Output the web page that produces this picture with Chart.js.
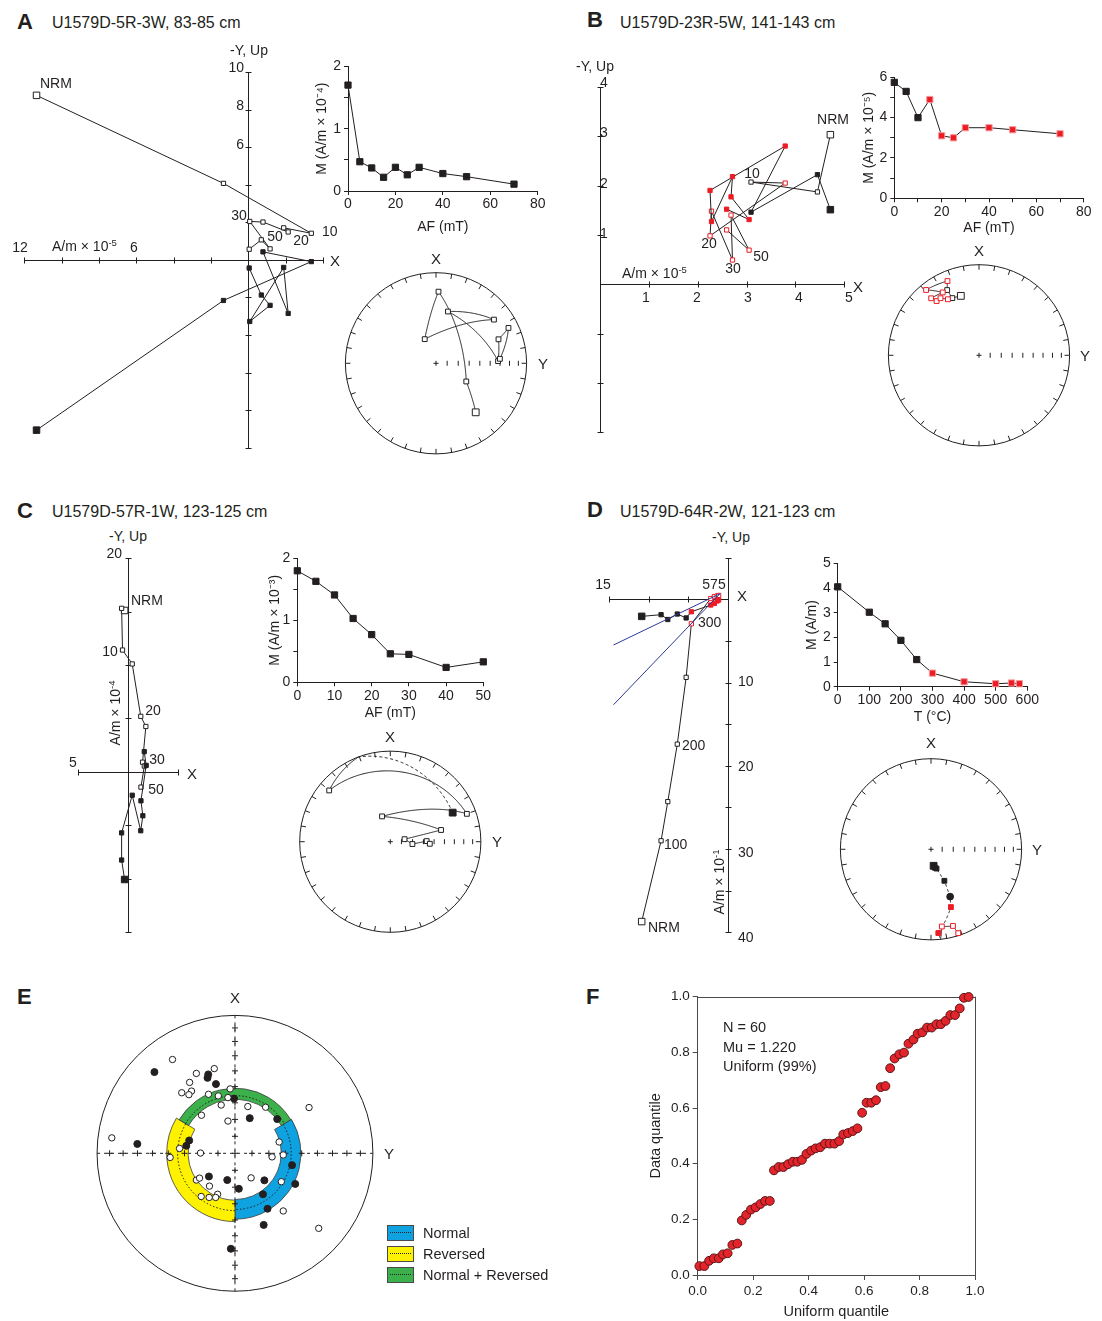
<!DOCTYPE html>
<html>
<head>
<meta charset="utf-8">
<title>U1579D demagnetization results</title>
<script src="https://cdn.jsdelivr.net/npm/chart.js@4.4.1/dist/chart.umd.min.js"></script>
<style>
  html, body { margin: 0; padding: 0; background: #fff; }
  body { position: relative; width: 1102px; height: 1321px; overflow: hidden;
         font-family: "Liberation Sans", Arial, Helvetica, sans-serif; color: #231f20; }
  canvas { position: absolute; }
  .t { position: absolute; white-space: nowrap; line-height: 1; }
  .t sup { font-size: 0.68em; vertical-align: 0; position: relative; top: -0.5em; }
  .key { position: absolute; width: 27px; height: 16px; border: 1px solid #4a4a4a; box-sizing: border-box; }
  .key::after { content: ""; position: absolute; left: 2px; right: 2px; top: 6px; border-top: 1px dotted #222; }
</style>
</head>
<body>
<script>
// ---------- Panel A: U1579D-5R-3W, 83-85 cm
const aSteps = [0, 5, 10, 15, 20, 25, 30, 40, 50, 70];
const aM = [1.70, 0.47, 0.37, 0.22, 0.38, 0.26, 0.38, 0.28, 0.23, 0.11];
const aZijUp = [[-11.35, 8.77], [-1.33, 4.08], [3.38, 1.42], [1.90, 1.71], [2.14, 1.49], [0.79, 2.02], [0.08, 2.05], [1.17, 0.59], [0.70, 1.07], [0.05, 0.57]];
const aZijHor = [[-11.35, -9.07], [-1.33, -2.16], [3.38, -0.09], [0.79, 0.43], [2.14, -2.85], [1.90, -0.40], [0.08, -3.28], [1.17, -2.42], [0.70, -1.87], [0.05, -0.43]];
const aDec = [141, 121, 2, 335, 53, 13, 88, 69, 64, 86];
const aInc = [-31, -58, -22, -66, -21, -41, -32, -27, -12, -30];

// ---------- Panel B: U1579D-23R-5W, 141-143 cm
const bSteps = [0, 5, 10, 15, 20, 25, 30, 40, 50, 70];
const bM = [5.75, 5.30, 4.00, 4.90, 3.10, 3.00, 3.50, 3.50, 3.40, 3.20];
const bZijUp = [[4.715, 3.03], [4.45, 1.87], [3.09, 2.07], [3.79, 2.05], [2.25, 0.98], [2.28, 1.48], [2.71, 0.49], [2.68, 1.40], [3.05, 0.69], [2.59, 1.10]];
const bZijHor = [[4.715, 1.51], [4.45, 2.22], [3.09, 1.46], [3.79, 2.80], [2.25, 1.90], [2.28, 1.27], [2.71, 2.18], [2.68, 1.77], [3.05, 1.31], [2.59, 1.52]];
const bDec = [343, 335, 334, 337, 321, 330, 320, 322, 326, 331];
const bInc = [-32, -31, -21, -12, -8, -21, -19, -25, -25, -30];
const bRedFrom = 3;

// ---------- Panel C: U1579D-57R-1W, 123-125 cm
const cSteps = [0, 5, 10, 15, 20, 25, 30, 40, 50];
const cM = [1.80, 1.63, 1.41, 1.03, 0.77, 0.46, 0.45, 0.24, 0.33];
const cZijUp = [[-0.36, 15.1], [-0.66, 15.3], [-0.57, 11.4], [0.40, 10.1], [1.25, 5.2], [1.76, 4.25], [1.43, 0.91], [1.61, 0.55], [1.27, -1.42]];
const cZijHor = [[-0.36, -10.06], [-0.66, -8.24], [-0.66, -5.7], [0.40, -2.18], [1.25, -5.5], [1.46, -4.1], [1.27, -2.7], [1.79, 0.61], [1.60, 1.9]];
const cDec = [65, 310, 70, 342, 77, 80, 96, 89, 93];
const cInc = [25, -13, -11, -66, -42, -77, -70, -57, -54];

// ---------- Panel D: U1579D-64R-2W, 121-123 cm (thermal)
const dSteps = [0, 100, 150, 200, 250, 300, 400, 500, 550, 575];
const dM = [4.05, 3.02, 2.55, 1.88, 1.10, 0.55, 0.20, 0.12, 0.15, 0.12];
const dZijUp = [[-10.9, -38.7], [-8.45, -29.0], [-7.6, -24.3], [-6.4, -17.4], [-5.28, -9.38], [-4.62, -2.95], [-2.17, 0.08], [-1.71, 0.31], [-1.36, 0.39], [-1.17, 0.45]];
const dZijHor = [[-10.9, -2.06], [-8.45, -1.86], [-7.6, -2.44], [-6.4, -1.78], [-5.28, -2.25], [-4.62, -1.51], [-2.17, -0.70], [-1.71, -0.51], [-1.36, -0.21], [-1.17, -0.10]];
const dFitUp = [[-1.0, 0.66], [-14.46, -12.67]];
const dFitHor = [[-1.0, 0.66], [-14.46, -5.5]];
const dDec = [171, 168, 164, 157, 158, 161, 175, 172, 164, 162];
const dInc = [75, 73, 72, 59, 43, 33, 8, -15, -13, -3];
const dRedFrom = 5;

// ---------- Panel E: site directions (equal-area east / north) and confidence bands
const eOpen = [[-0.453, 0.680], [-0.280, 0.579], [-0.150, 0.614], [-0.329, 0.514], [-0.386, 0.439], [-0.315, 0.451], [-0.334, 0.425],
  [-0.035, 0.467], [-0.192, 0.428], [-0.121, 0.416], [-0.051, 0.404], [-0.100, 0.350], [0.093, 0.339], [0.222, 0.334], [-0.243, 0.276],
  [-0.051, 0.234], [0.537, 0.332], [-0.893, 0.112], [0.320, 0.082], [-0.402, 0.035], [-0.470, -0.030], [-0.250, 0.002], [0.269, -0.026],
  [0.350, -0.012], [-0.280, -0.194], [-0.257, -0.180], [-0.185, -0.238], [0.117, -0.178], [0.336, -0.206], [-0.126, -0.297],
  [-0.245, -0.313], [-0.187, -0.320], [-0.140, -0.320], [0.350, -0.418], [0.607, -0.544]];
const eFilled = [[-0.584, 0.589], [-0.194, 0.572], [-0.199, 0.547], [-0.138, 0.502], [-0.007, 0.397], [0.107, 0.255], [0.306, 0.248],
  [-0.708, 0.068], [-0.332, 0.093], [-0.353, 0.054], [0.414, -0.086], [0.437, -0.222], [-0.189, -0.168], [-0.056, -0.194],
  [0.028, -0.257], [0.213, -0.196], [0.203, -0.297], [0.236, -0.402], [0.208, -0.519], [-0.030, -0.692]];
const eBandNames = ['Normal', 'Reversed', 'Normal + Reversed'];
const eBandColors = ['#0ea2e0', '#fff200', '#3cb04a'];
const eBandAz = [[59, 180], [180, 301], [301, 419]];
const eBandInc = [[62.6, 50.5], [62.2, 49.0], [57.8, 51.0]];
const eBandMeanInc = [56.5, 55.8, 55.6];

// ---------- Panel F: uniform quantile plot
const fUniform = [.006, .024, .041, .058, .076, .091, .108, .125, .143, .159, .175, .192, .209, .226, .243, .260, .275, .292, .309, .326,
  .343, .359, .376, .392, .409, .425, .442, .459, .476, .493, .510, .525, .542, .559, .576, .593, .609, .626, .643, .660,
  .677, .694, .710, .727, .744, .760, .778, .793, .810, .827, .844, .861, .877, .894, .911, .928, .945, .960, .977];
const fData = [.032, .032, .051, .060, .060, .074, .078, .108, .113, .196, .216, .235, .243, .255, .266, .266, .376, .388, .388, .398,
  .407, .407, .414, .435, .447, .455, .459, .472, .472, .472, .481, .505, .510, .517, .527, .583, .619, .619, .628, .675,
  .679, .743, .778, .793, .799, .831, .846, .867, .872, .889, .889, .901, .901, .913, .934, .934, .958, .996, .999];

const netIncTicks = [10, 20, 30, 40, 50, 60, 70, 80];

// ---------------------------------------------------------------------------
const INK = '#231f20', RED = '#ed1c24', FRAME = '#4a4a4a';
const D2R = Math.PI / 180;
Chart.defaults.font.family = "'Liberation Sans', Arial, Helvetica, sans-serif";
Chart.defaults.color = INK;

function makeCanvas(box) {
  const cv = document.createElement('canvas');
  cv.width = box[2]; cv.height = box[3];
  cv.style.left = box[0] + 'px'; cv.style.top = box[1] + 'px';
  cv.style.width = box[2] + 'px'; cv.style.height = box[3] + 'px';
  document.body.appendChild(cv);
  return cv;
}
function baseOpts() {
  return { responsive: false, animation: false, events: [],
           plugins: { legend: { display: false }, tooltip: { enabled: false } } };
}
const stepColors = (n, redFrom) => Array.from({ length: n }, (_, i) => i >= redFrom ? RED : INK);

// ---------- orthogonal (Zijderveld) plots
function zijSet(pts, colors, filled) {
  return {
    data: pts.map(p => ({ x: p[0], y: p[1] })), showLine: true, borderColor: INK, borderWidth: 1, clip: false,
    pointStyle: 'rect', pointRadius: pts.map((p, i) => i === 0 ? 4.6 : 3),
    pointBackgroundColor: colors.map(c => filled ? c : '#fff'), pointBorderColor: colors, pointBorderWidth: 1
  };
}
function zijChart(box, org, k, ax, sets) {
  const o = baseOpts();
  o.layout = { padding: 0 };
  o.scales = {
    x: { type: 'linear', display: false, min: (box[0] - org[0]) / k, max: (box[0] + box[2] - org[0]) / k },
    y: { type: 'linear', display: false, min: (org[1] - box[1] - box[3]) / k, max: (org[1] - box[1]) / k }
  };
  new Chart(makeCanvas(box), { type: 'scatter', data: { datasets: sets }, options: o, plugins: [{
    id: 'zijAxes',
    beforeDatasetsDraw(chart) {
      const { ctx, scales: { x, y } } = chart;
      const px = v => Math.round(x.getPixelForValue(v)) + 0.5, py = v => Math.round(y.getPixelForValue(v)) + 0.5;
      ctx.save();
      ctx.strokeStyle = INK; ctx.lineWidth = 1;
      ctx.beginPath();
      ctx.moveTo(px(ax.x[0]), py(0)); ctx.lineTo(px(ax.x[1]), py(0));
      ctx.moveTo(px(0), py(ax.y[0])); ctx.lineTo(px(0), py(ax.y[1]));
      for (let v = ax.x[0]; v <= ax.x[1] + 1e-9; v += ax.x[2]) {
        if (Math.abs(v) < 1e-9) continue;
        ctx.moveTo(px(v), py(0) - 3); ctx.lineTo(px(v), py(0) + 3);
      }
      for (let v = ax.y[0]; v <= ax.y[1] + 1e-9; v += ax.y[2]) {
        if (Math.abs(v) < 1e-9) continue;
        ctx.moveTo(px(0) - 3, py(v)); ctx.lineTo(px(0) + 3, py(v));
      }
      ctx.stroke();
      ctx.restore();
    }
  }] });
}

// ---------- intensity decay plots and the quantile plot
function axisOpt(s, horizontal, size) {
  return {
    type: 'linear', min: s.min, max: s.max,
    afterFit: sc => { if (horizontal) sc.height = size; else sc.width = size; },
    border: { display: true, color: s.color || INK, width: 1 },
    grid: { display: true, drawOnChartArea: false, drawTicks: true, tickLength: s.tick || 4, color: s.color || INK },
    ticks: { stepSize: s.step, autoSkip: false, maxRotation: 0, color: INK, padding: s.pad, font: { size: s.fs || 14 },
             callback: s.fmt || (v => s.labels.some(l => Math.abs(l - v) < 1e-9) ? String(v) : '') },
    title: { display: true, text: s.title, color: INK, font: { size: s.ts || 14 }, padding: { top: s.tp, bottom: 0 } }
  };
}
function plotChart(box, area, sets, sx, sy, extra) {
  const o = baseOpts();
  o.layout = { padding: { left: 0, bottom: 0, top: area[1] - box[1], right: box[0] + box[2] - area[2] } };
  o.scales = { x: axisOpt(sx, true, box[1] + box[3] - area[3]), y: axisOpt(sy, false, area[0] - box[0]) };
  new Chart(makeCanvas(box), { type: 'scatter', data: { datasets: sets }, options: o, plugins: extra ? [extra] : [] });
}
function decaySet(xs, ys, redFrom) {
  const cols = stepColors(xs.length, redFrom);
  return {
    data: xs.map((x, i) => ({ x, y: ys[i] })), showLine: true, borderColor: INK, borderWidth: 1, clip: false,
    pointStyle: 'rect', pointRadius: 4.4, pointBackgroundColor: cols,
    pointBorderColor: cols.map(c => c === RED ? '#f59a9d' : INK), pointBorderWidth: 1
  };
}

// ---------- equal-area stereonets
function proj(dec, inc) {
  const r = Math.sqrt(1 - Math.sin(Math.abs(inc) * D2R));
  return { x: r * Math.sin(dec * D2R), y: r * Math.cos(dec * D2R) };
}
function vec(dec, inc) {
  return [Math.cos(inc * D2R) * Math.cos(dec * D2R), Math.cos(inc * D2R) * Math.sin(dec * D2R), Math.sin(inc * D2R)];
}
function projVec(w) {
  const h = Math.hypot(w[0], w[1]);
  const r = Math.sqrt(Math.max(0, 1 - Math.abs(w[2])));
  return h < 1e-9 ? { x: 0, y: 0 } : { x: r * w[1] / h, y: r * w[0] / h };
}
function drawNet(ctx, P, R) {
  const [cx, cy] = P(0, 0);
  ctx.strokeStyle = INK; ctx.lineWidth = 1;
  ctx.beginPath(); ctx.arc(cx, cy, R, 0, 2 * Math.PI); ctx.stroke();
  ctx.beginPath();
  for (let a = 0; a < 360; a += 10) {
    const s = Math.sin(a * D2R), c = Math.cos(a * D2R);
    ctx.moveTo(cx + s * R, cy - c * R); ctx.lineTo(cx + s * (R - 5), cy - c * (R - 5));
  }
  ctx.moveTo(cx - 2.5, cy); ctx.lineTo(cx + 2.5, cy); ctx.moveTo(cx, cy - 2.5); ctx.lineTo(cx, cy + 2.5);
  netIncTicks.forEach(I => {
    const r = R * Math.sqrt(1 - Math.sin(I * D2R));
    ctx.moveTo(cx + r, cy - 2.5); ctx.lineTo(cx + r, cy + 2.5);
  });
  ctx.stroke();
}
// consecutive directions joined along great circles: solid above, dashed below the horizontal
function drawPath(ctx, P, dec, inc) {
  ctx.strokeStyle = INK; ctx.lineWidth = 1;
  let run = [], low = null;
  const flush = () => {
    if (run.length > 1) {
      ctx.setLineDash(low ? [3, 2.5] : []);
      ctx.beginPath();
      run.forEach((p, j) => j ? ctx.lineTo(p[0], p[1]) : ctx.moveTo(p[0], p[1]));
      ctx.stroke();
    }
  };
  for (let i = 0; i < dec.length - 1; i++) {
    const u = vec(dec[i], inc[i]), v = vec(dec[i + 1], inc[i + 1]);
    const th = Math.acos(Math.min(1, Math.max(-1, u[0] * v[0] + u[1] * v[1] + u[2] * v[2])));
    const n = Math.max(2, Math.ceil(th * 80));
    for (let k = i ? 1 : 0; k <= n; k++) {
      const t = k / n;
      let w = u;
      if (th > 1e-6) {
        const a = Math.sin((1 - t) * th) / Math.sin(th), b = Math.sin(t * th) / Math.sin(th);
        w = [a * u[0] + b * v[0], a * u[1] + b * v[1], a * u[2] + b * v[2]];
      }
      const q = projVec(w), p = P(q.x, q.y), lw = w[2] > 1e-9;
      if (low === null) low = lw;
      if (lw !== low) { flush(); run = [run[run.length - 1]]; low = lw; }
      run.push(p);
    }
  }
  flush();
  ctx.setLineDash([]);
}
function dirSet(dec, inc, colors, shapes) {
  return {
    data: dec.map((d, i) => proj(d, inc[i])), showLine: false, clip: false,
    pointStyle: shapes || 'rect', pointRadius: dec.map((d, i) => i === 0 ? 4.8 : 3.4),
    pointBackgroundColor: inc.map((v, i) => v > 0 ? colors[i] : '#fff'),
    pointBorderColor: colors, pointBorderWidth: 1
  };
}
function stereoChart(c, R, sets, drawUnder) {
  const pad = 7;
  const box = [Math.round(c[0] - R - pad), Math.round(c[1] - R - pad), Math.round(2 * R + 2 * pad), Math.round(2 * R + 2 * pad)];
  const o = baseOpts();
  o.layout = { padding: 0 };
  o.scales = {
    x: { type: 'linear', display: false, min: (box[0] - c[0]) / R, max: (box[0] + box[2] - c[0]) / R },
    y: { type: 'linear', display: false, min: (c[1] - box[1] - box[3]) / R, max: (c[1] - box[1]) / R }
  };
  new Chart(makeCanvas(box), { type: 'scatter', data: { datasets: sets }, options: o, plugins: [{
    id: 'net',
    beforeDatasetsDraw(chart) {
      const { ctx, scales: { x, y } } = chart;
      const P = (e, n) => [x.getPixelForValue(e), y.getPixelForValue(n)];
      ctx.save();
      drawUnder(ctx, P, x.getPixelForValue(1) - x.getPixelForValue(0));
      ctx.restore();
    }
  }] });
}

// ---------- text
function lab(html, x, y, a, s, rot) {
  const d = document.createElement('div');
  d.className = 't';
  d.innerHTML = html;
  d.style.left = x + 'px'; d.style.top = y + 'px';
  d.style.fontSize = (s || 14) + 'px';
  const tx = a === 'c' ? '-50%' : a === 'r' ? '-100%' : '0';
  d.style.transform = `translate(${tx},-50%)` + (rot ? ` rotate(${rot}deg)` : '');
  document.body.appendChild(d);
}

// =========================== Panel A
zijChart([10, 55, 335, 405], [250.7, 260], 19.3, { x: [-12, 4, 2], y: [-10, 10, 2] }, [
  zijSet(aZijHor, stepColors(10, 99), true),
  zijSet(aZijUp, stepColors(10, 99), false)
]);
plotChart([300, 55, 250, 181], [348, 65, 537.7, 191], [decaySet(aSteps, aM, 99)],
  { min: 0, max: 80, step: 20, labels: [0, 20, 40, 60, 80], pad: 1, title: 'AF (mT)', tp: 9 },
  { min: 0, max: 2, step: 0.5, labels: [0, 1, 2], pad: 3, title: 'M (A/m × 10⁻⁴)', tp: 13.5 });
stereoChart([436, 363.3], 96, [dirSet(aDec, aInc, stepColors(10, 99))],
  (ctx, P, R) => { drawNet(ctx, P, R); drawPath(ctx, P, aDec, aInc); });

// =========================== Panel B
zijChart([585, 70, 280, 375], [595, 285], 50.85, { x: [0, 5, 1], y: [-3, 4, 1] }, [
  zijSet(bZijHor, stepColors(10, bRedFrom), true),
  zijSet(bZijUp, stepColors(10, bRedFrom), false)
]);
plotChart([850, 65, 250, 172], [894.3, 77.3, 1083.7, 198.3], [decaySet(bSteps, bM, bRedFrom)],
  { min: 0, max: 80, step: 10, labels: [0, 20, 40, 60, 80], pad: 1, title: 'AF (mT)', tp: 0 },
  { min: 0, max: 6, step: 1, labels: [0, 2, 4, 6], pad: 3, title: 'M (A/m × 10⁻⁵)', tp: 10.5 });
stereoChart([979, 355.3], 96, [dirSet(bDec, bInc, stepColors(10, bRedFrom))],
  (ctx, P, R) => { drawNet(ctx, P, R); drawPath(ctx, P, bDec, bInc); });

// =========================== Panel C
zijChart([65, 545, 125, 400], [128.3, 772.7], 11, { x: [-5, 5, 5], y: [-15, 20, 5] }, [
  zijSet(cZijHor, stepColors(9, 99), true),
  zijSet(cZijUp, stepColors(9, 99), false)
]);
plotChart([255, 547, 240, 175], [297.3, 557.3, 483.3, 682.3], [decaySet(cSteps, cM, 99)],
  { min: 0, max: 50, step: 10, labels: [0, 10, 20, 30, 40, 50], pad: 1, title: 'AF (mT)', tp: 5.3 },
  { min: 0, max: 2, step: 0.5, labels: [0, 1, 2], pad: 3, title: 'M (A/m × 10⁻³)', tp: 11.5 });
stereoChart([390.3, 841.7], 96, [dirSet(cDec, cInc, stepColors(9, 99))],
  (ctx, P, R) => { drawNet(ctx, P, R); drawPath(ctx, P, cDec, cInc); });

// =========================== Panel D
zijChart([598, 545, 145, 400], [732.7, 595], 8.57, { x: [-15, 0, 5], y: [-40, 5, 5] }, [
  { data: dFitUp.map(p => ({ x: p[0], y: p[1] })), showLine: true, borderColor: '#2b3a93', borderWidth: 1, pointRadius: 0, clip: false },
  { data: dFitHor.map(p => ({ x: p[0], y: p[1] })), showLine: true, borderColor: '#2b3a93', borderWidth: 1, pointRadius: 0, clip: false },
  zijSet(dZijHor, stepColors(10, dRedFrom), true),
  zijSet(dZijUp, stepColors(10, dRedFrom), false)
]);
plotChart([795, 552, 250, 174], [837.7, 562.3, 1027.3, 686.7], [decaySet(dSteps, dM, dRedFrom)],
  { min: 0, max: 600, step: 100, labels: [0, 100, 200, 300, 400, 500, 600], pad: 1, title: 'T (°C)', tp: 0 },
  { min: 0, max: 5, step: 1, labels: [0, 1, 2, 3, 4, 5], pad: 3, title: 'M (A/m)', tp: 8.3 });
stereoChart([931, 849.3], 96, [dirSet(dDec, dInc, stepColors(10, dRedFrom),
    dSteps.map(s => s === 250 ? 'circle' : 'rect'))],
  (ctx, P, R) => { drawNet(ctx, P, R); drawPath(ctx, P, dDec, dInc); });

// =========================== Panel E
stereoChart([235, 1153.3], 142.7, [
  { data: eOpen.map(p => ({ x: p[0], y: p[1] })), showLine: false, clip: false, pointStyle: 'circle', pointRadius: 3.2,
    pointBackgroundColor: '#fff', pointBorderColor: INK, pointBorderWidth: 1 },
  { data: eFilled.map(p => ({ x: p[0], y: p[1] })), showLine: false, clip: false, pointStyle: 'circle', pointRadius: 3.5,
    pointBackgroundColor: INK, pointBorderColor: INK, pointBorderWidth: 1 }
], (ctx, P, R) => {
  const [cx, cy] = P(0, 0);
  ctx.strokeStyle = INK; ctx.lineWidth = 1;
  ctx.beginPath(); ctx.arc(cx, cy, R, 0, 2 * Math.PI); ctx.stroke();
  ctx.setLineDash([3, 4]);
  ctx.beginPath();
  ctx.moveTo(cx - R, cy); ctx.lineTo(cx + R, cy); ctx.moveTo(cx, cy - R); ctx.lineTo(cx, cy + R);
  ctx.stroke();
  ctx.setLineDash([]);
  eBandAz.forEach((az, i) => {
    const rIn = R * Math.sqrt(1 - Math.sin(eBandInc[i][0] * D2R));
    const rOut = R * Math.sqrt(1 - Math.sin(eBandInc[i][1] * D2R));
    const a0 = (az[0] - 90) * D2R, a1 = (az[1] - 90) * D2R;
    ctx.beginPath();
    ctx.arc(cx, cy, rOut, a0, a1); ctx.arc(cx, cy, rIn, a1, a0, true); ctx.closePath();
    ctx.fillStyle = eBandColors[i]; ctx.fill();
    ctx.strokeStyle = '#3a3a3a'; ctx.lineWidth = 0.8; ctx.stroke();
    const rm = R * Math.sqrt(1 - Math.sin(eBandMeanInc[i] * D2R));
    ctx.setLineDash([1.5, 2]); ctx.strokeStyle = '#1a1a1a'; ctx.lineWidth = 1;
    ctx.beginPath(); ctx.arc(cx, cy, rm, a0, a1); ctx.stroke();
    ctx.setLineDash([]);
  });
  ctx.strokeStyle = INK; ctx.lineWidth = 1;
  ctx.beginPath();
  const cross = (x, y) => { ctx.moveTo(x - 3, y); ctx.lineTo(x + 3, y); ctx.moveTo(x, y - 3); ctx.lineTo(x, y + 3); };
  cross(cx, cy);
  netIncTicks.forEach(I => {
    const r = R * Math.sqrt(1 - Math.sin(I * D2R));
    cross(cx + r, cy); cross(cx - r, cy); cross(cx, cy + r); cross(cx, cy - r);
  });
  ctx.stroke();
});

// =========================== Panel F
plotChart([640, 985, 350, 336], [697.7, 996.7, 975, 1275], [{
    data: fUniform.map((x, i) => ({ x, y: fData[i] })), showLine: false, clip: false, pointStyle: 'circle',
    pointRadius: 4.4, pointBackgroundColor: '#e3242b', pointBorderColor: '#5a1618', pointBorderWidth: 1
  }],
  { min: 0, max: 1, step: 0.2, fmt: v => v.toFixed(1), pad: 3, tick: 5, color: FRAME, fs: 13.5, ts: 14.5, title: 'Uniform quantile', tp: 0.3 },
  { min: 0, max: 1, step: 0.2, fmt: v => v.toFixed(1), pad: 3, tick: 5, color: FRAME, fs: 13.5, ts: 14.5, title: 'Data quantile', tp: 7.3 },
  { id: 'frame', beforeDatasetsDraw(chart) {
      const { ctx, chartArea: a } = chart;
      ctx.save(); ctx.strokeStyle = FRAME; ctx.lineWidth = 1;
      ctx.beginPath();
      ctx.moveTo(a.left, Math.round(a.top) + 0.5); ctx.lineTo(a.right, Math.round(a.top) + 0.5);
      ctx.moveTo(Math.round(a.right) + 0.5, a.top); ctx.lineTo(Math.round(a.right) + 0.5, a.bottom);
      ctx.stroke(); ctx.restore();
  } });

// =========================== text
const SUP5 = 'A/m × 10<sup>-5</sup>';
[
  ['<b>A</b>', 17, 22, 'l', 22], ['U1579D-5R-3W, 83-85 cm', 52, 23, 'l', 16],
  ['<b>B</b>', 587, 20, 'l', 22], ['U1579D-23R-5W, 141-143 cm', 620, 23, 'l', 16],
  ['<b>C</b>', 17, 511, 'l', 22], ['U1579D-57R-1W, 123-125 cm', 52, 512, 'l', 16],
  ['<b>D</b>', 587, 510, 'l', 22], ['U1579D-64R-2W, 121-123 cm', 620, 512, 'l', 16],
  ['<b>E</b>', 17, 997, 'l', 22], ['<b>F</b>', 586, 997, 'l', 22],
  // A
  ['-Y, Up', 249, 50, 'c'], ['10', 244, 67, 'r'], ['8', 244, 105, 'r'], ['6', 244, 144, 'r'],
  ['12', 20, 247, 'c'], [SUP5, 52, 246, 'l'], ['6', 134, 247, 'c'], ['X', 330, 260, 'l', 15],
  ['NRM', 40, 83, 'l'], ['30', 239, 215, 'c'], ['10', 322, 231, 'l'], ['20', 301, 240, 'c'], ['50', 275, 236, 'c'],
  ['X', 436, 258, 'c', 15], ['Y', 543, 363, 'c', 15],
  // B
  ['-Y, Up', 595, 66, 'c'], ['4', 604, 82, 'c'], ['3', 604, 132, 'c'], ['2', 604, 183, 'c'], ['1', 604, 233, 'c'],
  ['1', 646, 297, 'c'], ['2', 697, 297, 'c'], ['3', 748, 297, 'c'], ['4', 799, 297, 'c'], ['5', 849, 297, 'c'],
  [SUP5, 622, 273, 'l'], ['X', 853, 286, 'l', 15],
  ['NRM', 833, 119, 'c'], ['10', 752, 173, 'c'], ['20', 709, 243, 'c'], ['30', 733, 268, 'c'], ['50', 761, 256, 'c'],
  ['X', 979, 250, 'c', 15], ['Y', 1085, 355, 'c', 15],
  // C
  ['-Y, Up', 128, 536, 'c'], ['20', 122, 553, 'r'], ['5', 73, 762, 'c'], ['X', 187, 773, 'l', 15],
  ['A/m × 10<sup>-4</sup>', 115, 713, 'c', 14, -90],
  ['NRM', 131, 600, 'l'], ['10', 110, 651, 'c'], ['20', 153, 710, 'c'], ['30', 157, 759, 'c'], ['50', 156, 789, 'c'],
  ['X', 390, 736, 'c', 15], ['Y', 497, 841, 'c', 15],
  // D
  ['-Y, Up', 731, 537, 'c'], ['15', 603, 584, 'c'], ['575', 714, 584, 'c'], ['X', 737, 595, 'l', 15],
  ['300', 698, 622, 'l'], ['200', 682, 745, 'l'], ['100', 664, 844, 'l'], ['NRM', 648, 927, 'l'],
  ['10', 738, 681, 'l'], ['20', 738, 766, 'l'], ['30', 738, 852, 'l'], ['40', 738, 937, 'l'],
  ['A/m × 10<sup>-1</sup>', 719, 882, 'c', 14, -90],
  ['X', 931, 742, 'c', 15], ['Y', 1037, 849, 'c', 15],
  // E
  ['X', 235, 997, 'c', 15], ['Y', 389, 1153, 'c', 15],
  // F
  ['N = 60', 723, 1027, 'l', 14.5], ['Mu = 1.220', 723, 1047, 'l', 14.5], ['Uniform (99%)', 723, 1066, 'l', 14.5]
].forEach(l => lab(...l));

// legend of panel E
eBandNames.forEach((name, i) => {
  const y = [1225, 1246, 1267][i];
  const k = document.createElement('div');
  k.className = 'key';
  k.style.left = '387px'; k.style.top = y + 'px'; k.style.background = eBandColors[i];
  document.body.appendChild(k);
  lab(name, 423, y + 8, 'l', 14.5);
});
</script>
</body>
</html>
